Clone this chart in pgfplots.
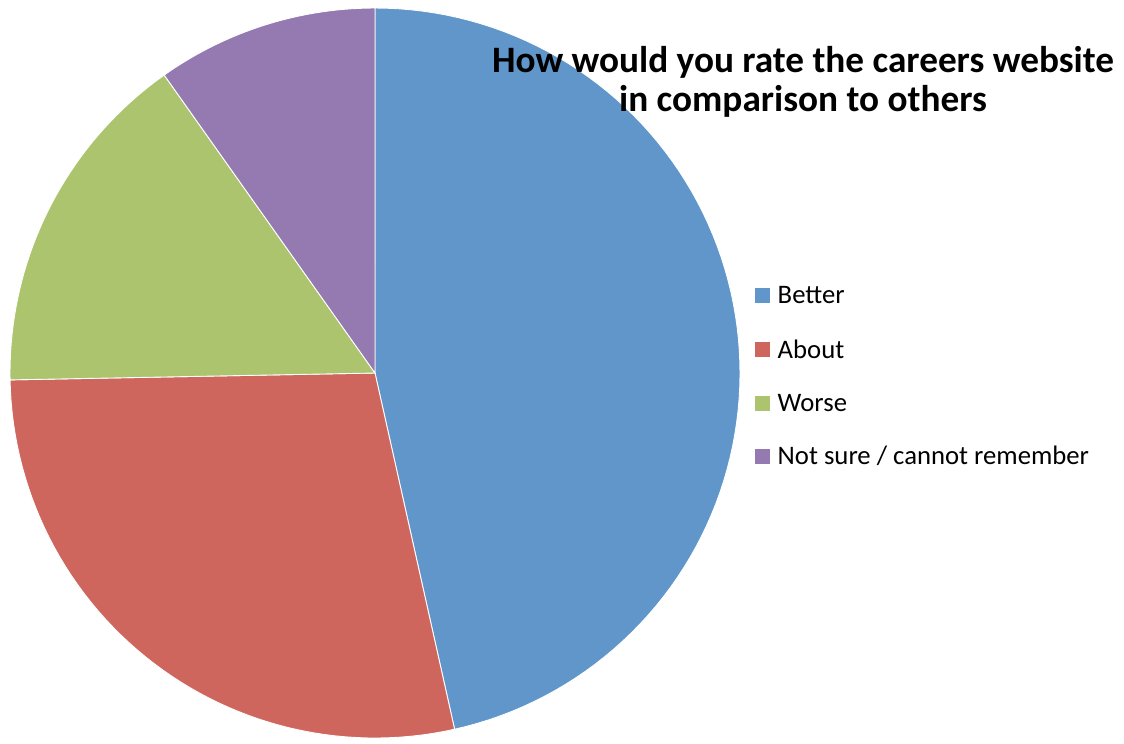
\documentclass[border=0pt]{standalone}
\usepackage{fontspec}
\setmainfont{Carlito}
\usepackage{pgfplots}
\pgfplotsset{compat=1.18}
\definecolor{cBetter}{RGB}{96,150,201}
\definecolor{cAbout}{RGB}{206,102,94}
\definecolor{cWorse}{RGB}{171,196,109}
\definecolor{cNot}{RGB}{149,122,177}
\begin{document}
\begin{tikzpicture}
\begin{axis}[
  scale only axis, width=11.24cm, height=7.43cm,
  xmin=0, xmax=1124, ymin=0, ymax=743,
  hide axis, clip=false,
]
\path (axis cs:0,0) rectangle (axis cs:1124,743);
% slice values (percent), clockwise from 12 o'clock
\pgfmathsetmacro{\vA}{46.5}
\pgfmathsetmacro{\vB}{28.2}
\pgfmathsetmacro{\vC}{15.5}
\pgfmathsetmacro{\vD}{9.8}
\pgfmathsetmacro{\tot}{\vA+\vB+\vC+\vD}
\pgfmathsetmacro{\aA}{90}
\pgfmathsetmacro{\aB}{90-\vA/\tot*360}
\pgfmathsetmacro{\aC}{\aB-\vB/\tot*360}
\pgfmathsetmacro{\aD}{\aC-\vC/\tot*360}
\pgfmathsetmacro{\aE}{\aD-\vD/\tot*360}
\def\cx{375}\def\cy{370}\def\rr{365}
\addplot[fill=cBetter, draw=white, line width=0.25pt, domain=\aB:\aA, samples=90, variable=\ang]
  ({\cx+\rr*cos(\ang)},{\cy+\rr*sin(\ang)}) -- (axis cs:\cx,\cy) -- cycle;
\addplot[fill=cAbout, draw=white, line width=0.25pt, domain=\aC:\aB, samples=60, variable=\ang]
  ({\cx+\rr*cos(\ang)},{\cy+\rr*sin(\ang)}) -- (axis cs:\cx,\cy) -- cycle;
\addplot[fill=cWorse, draw=white, line width=0.25pt, domain=\aD:\aC, samples=40, variable=\ang]
  ({\cx+\rr*cos(\ang)},{\cy+\rr*sin(\ang)}) -- (axis cs:\cx,\cy) -- cycle;
\addplot[fill=cNot, draw=white, line width=0.25pt, domain=\aE:\aD, samples=30, variable=\ang]
  ({\cx+\rr*cos(\ang)},{\cy+\rr*sin(\ang)}) -- (axis cs:\cx,\cy) -- cycle;
% title
\node[align=center, font=\bfseries\fontsize{10.6}{11.1}\selectfont, inner sep=0pt]
  at (axis cs:803,661) {How would you rate the careers website\\in comparison to others};
% legend
\fill[cBetter] (axis cs:755,440.5) rectangle (axis cs:770,455.5);
\node[anchor=west, inner sep=0pt, font=\fontsize{7.6}{9}\selectfont] at (axis cs:777,448) {Better};
\fill[cAbout] (axis cs:755,386.5) rectangle (axis cs:770,401.5);
\node[anchor=west, inner sep=0pt, font=\fontsize{7.6}{9}\selectfont] at (axis cs:777,394) {About};
\fill[cWorse] (axis cs:755,332.5) rectangle (axis cs:770,347.5);
\node[anchor=west, inner sep=0pt, font=\fontsize{7.6}{9}\selectfont] at (axis cs:777,340) {Worse};
\fill[cNot] (axis cs:755,279.5) rectangle (axis cs:770,294.5);
\node[anchor=west, inner sep=0pt, font=\fontsize{7.6}{9}\selectfont] at (axis cs:777,287) {Not sure / cannot remember};
\end{axis}
\end{tikzpicture}
\end{document}
